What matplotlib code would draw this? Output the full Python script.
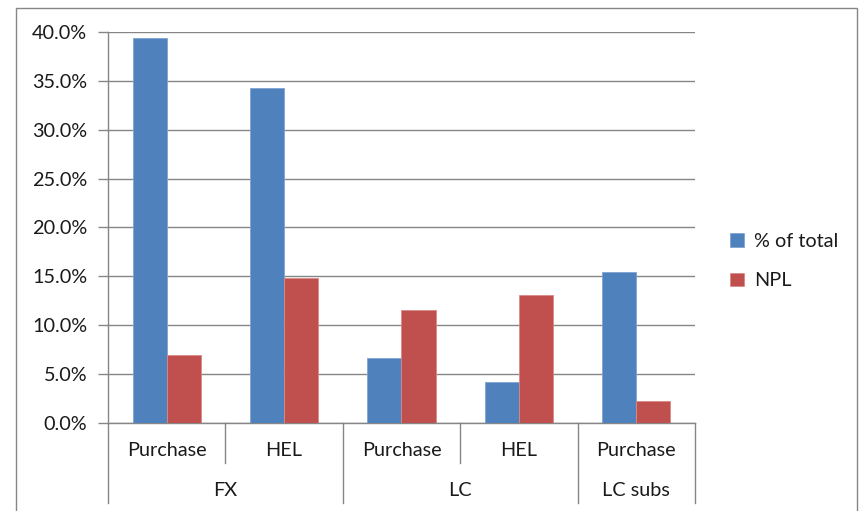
import matplotlib
matplotlib.use('Agg')
import matplotlib.pyplot as plt
import numpy as np
from matplotlib.patches import Rectangle
from matplotlib.ticker import FuncFormatter

# loan portfolio shares by currency / product
products = ['Purchase', 'HEL', 'Purchase', 'HEL', 'Purchase']
groups = ['FX', 'LC', 'LC subs']
group_spans = [(0, 1), (2, 3), (4, 4)]
share_total = [39.4, 34.3, 6.6, 4.2, 15.4]
share_npl = [7.0, 14.8, 11.6, 13.1, 2.3]

blue = '#4F81BD'
red = '#C0504D'
grey = '#868686'
txt = '#1a1a1a'
fs = 14.3

plt.rcParams['font.family'] = ['Lato', 'DejaVu Sans']
plt.rcParams['font.size'] = fs

W, H = 859, 511
fig = plt.figure(figsize=(W / 100, H / 100), dpi=100)

# outer chart frame
fig.patches.append(Rectangle((16 / W, -0.01), (857 - 16) / W, (511 - 8) / H + 0.01,
                             transform=fig.transFigure, fill=False,
                             edgecolor=grey, linewidth=1.0))

ax = fig.add_axes([108 / W, (511 - 423) / H, (695 - 108) / W, (423 - 32) / H])

x = np.arange(len(products))
w = 0.29
ax.bar(x - w / 2, share_total, w, color=blue, edgecolor='#7FA3D3', linewidth=0.6,
       label='% of total', zorder=3)
ax.bar(x + w / 2, share_npl, w, color=red, edgecolor='#D98A88', linewidth=0.6,
       label='NPL', zorder=3)

ax.set_xlim(-0.5, len(products) - 0.5)
ax.set_ylim(0, 40)
ax.set_yticks(np.arange(0, 40.1, 5))
ax.yaxis.set_major_formatter(FuncFormatter(lambda v, p: f'{v:.1f}%'))
ax.yaxis.grid(True, color=grey, linewidth=1.0, zorder=0)
ax.tick_params(axis='y', length=7, width=1.0, color=grey, pad=8,
               labelsize=fs, labelcolor=txt)
ax.set_xticks([])

for side in ['top', 'right']:
    ax.spines[side].set_visible(False)
for side in ['left', 'bottom']:
    ax.spines[side].set_color(grey)
    ax.spines[side].set_linewidth(1.0)

# two-level category axis
tr = ax.get_xaxis_transform()
px = 1 / (423 - 32)
short_y = -40 * px
long_y = -80 * px
for gx in [-0.5, 1.5, 3.5, 4.5]:
    ax.plot([gx, gx], [0, long_y], color=grey, linewidth=1.0, transform=tr, clip_on=False)
for gx in [0.5, 2.5]:
    ax.plot([gx, gx], [0, short_y], color=grey, linewidth=1.0, transform=tr, clip_on=False)
for i, name in enumerate(products):
    ax.text(i, -27 * px, name, transform=tr, ha='center', va='center',
            fontsize=fs, color=txt)
for name, (a, b) in zip(groups, group_spans):
    ax.text((a + b) / 2, -67 * px, name, transform=tr, ha='center', va='center',
            fontsize=fs, color=txt)

leg = fig.legend(loc='center left', bbox_to_anchor=(712 / W, 1 - 261 / H),
                 frameon=False, handlelength=0.7, handleheight=0.7,
                 handletextpad=0.5, labelspacing=1.15, fontsize=fs)
for t in leg.get_texts():
    t.set_color(txt)

fig.savefig('out.png', dpi=100)
